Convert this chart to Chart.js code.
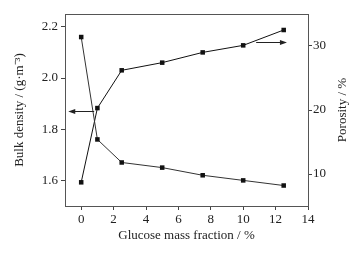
<!DOCTYPE html>
<html>
<head>
<meta charset="utf-8">
<script src="https://cdn.jsdelivr.net/npm/chart.js@4/dist/chart.umd.min.js"></script>
<style>
  html, body { margin: 0; padding: 0; background: #fff; }
  #wrap { width: 361px; height: 254px; }
</style>
</head>
<body>
<div id="wrap"><canvas id="c"></canvas></div>
<script>
const glucose = [0, 1, 2.5, 5, 7.5, 10, 12.5];
const bulkDensity = [2.16, 1.76, 1.67, 1.65, 1.62, 1.60, 1.58];
const porosity = [8.7, 20.3, 26.2, 27.4, 29.0, 30.1, 32.5];

const xTicks = [0, 2, 4, 6, 8, 10, 12, 14];
const densityTicks = [1.6, 1.8, 2.0, 2.2];
const porosityTicks = [10, 20, 30];

// arrows: [x from, x to, value] on the axis they point to
const leftArrow = [0.8, -0.8, 1.87];
const rightArrow = [10.8, 12.7, 30.7];

const rightTitle = "Porosity / %";

const font = { family: "'Liberation Serif', 'Times New Roman', serif", size: 13 };
const ink = "#222";

function fixTicks(list) {
  return function (scale) {
    scale.ticks = list.map((v) => ({ value: v }));
  };
}

const extras = {
  id: "extras",
  afterDatasetsDraw(chart) {
    const { ctx, chartArea, scales } = chart;
    ctx.save();
    ctx.strokeStyle = "#555";
    ctx.lineWidth = 1;
    ctx.beginPath();
    ctx.moveTo(chartArea.left, chartArea.top + 0.5);
    ctx.lineTo(chartArea.right, chartArea.top + 0.5);
    ctx.stroke();

    function arrow(x1, x2, y) {
      const px1 = scales.x.getPixelForValue(x1);
      const px2 = scales.x.getPixelForValue(x2);
      const dir = px2 > px1 ? 1 : -1;
      ctx.strokeStyle = ink;
      ctx.fillStyle = ink;
      ctx.beginPath();
      ctx.moveTo(px1, y);
      ctx.lineTo(px2 - dir * 4, y);
      ctx.stroke();
      ctx.beginPath();
      ctx.moveTo(px2, y);
      ctx.lineTo(px2 - dir * 7, y - 2.5);
      ctx.lineTo(px2 - dir * 7, y + 2.5);
      ctx.closePath();
      ctx.fill();
    }
    arrow(leftArrow[0], leftArrow[1], Math.round(scales.yL.getPixelForValue(leftArrow[2])) + 0.5);
    arrow(rightArrow[0], rightArrow[1], Math.round(scales.yR.getPixelForValue(rightArrow[2])) + 0.5);

    // right axis title reads bottom-to-top like the left one
    ctx.translate(343, (chartArea.top + chartArea.bottom) / 2);
    ctx.rotate(-Math.PI / 2);
    ctx.font = font.size + "px " + font.family;
    ctx.fillStyle = ink;
    ctx.textAlign = "center";
    ctx.textBaseline = "middle";
    ctx.fillText(rightTitle, 0, 0);
    ctx.restore();
  },
};

new Chart(document.getElementById("c"), {
  type: "line",
  data: {
    datasets: [
      {
        label: "Bulk density",
        data: glucose.map((x, i) => ({ x: x, y: bulkDensity[i] })),
        yAxisID: "yL",
        borderColor: "#333",
        backgroundColor: "#111",
        borderWidth: 1,
        pointStyle: "rect",
        pointRadius: 3.2,
        pointBorderWidth: 0,
      },
      {
        label: "Porosity",
        data: glucose.map((x, i) => ({ x: x, y: porosity[i] })),
        yAxisID: "yR",
        borderColor: "#111",
        backgroundColor: "#111",
        borderWidth: 1,
        pointStyle: "rect",
        pointRadius: 3.2,
        pointBorderWidth: 0,
      },
    ],
  },
  options: {
    responsive: true,
    maintainAspectRatio: false,
    animation: false,
    layout: { padding: { top: 14, left: 0, right: 0, bottom: 0 } },
    plugins: { legend: { display: false }, tooltip: { enabled: false } },
    scales: {
      x: {
        type: "linear",
        min: -1,
        max: 14,
        afterBuildTicks: fixTicks(xTicks),
        afterFit(s) { s.height = 48; },
        border: { color: "#555", width: 1 },
        grid: { drawOnChartArea: false, tickLength: 4, color: "#444" },
        ticks: { color: ink, font: font, padding: 2 },
        title: { display: true, text: "Glucose mass fraction / %", color: ink, font: font, padding: { top: 0, bottom: 11 } },
      },
      yL: {
        type: "linear",
        position: "left",
        min: 1.5,
        max: 2.25,
        afterBuildTicks: fixTicks(densityTicks),
        afterFit(s) { s.width = 65; },
        border: { color: "#555", width: 1 },
        grid: { drawOnChartArea: false, tickLength: 4, color: "#444" },
        ticks: { color: ink, font: font, padding: 3, callback: (v) => v.toFixed(1) },
        title: { display: true, text: "Bulk density / (g·m⁻³)", color: ink, font: font, padding: { top: 12, bottom: 0 } },
      },
      yR: {
        type: "linear",
        position: "right",
        min: 5,
        max: 35,
        afterBuildTicks: fixTicks(porosityTicks),
        afterFit(s) { s.width = 53; },
        border: { color: "#555", width: 1 },
        grid: { drawOnChartArea: false, tickLength: 4, color: "#444" },
        ticks: { color: ink, font: font, padding: 1 },
      },
    },
  },
  plugins: [extras],
});
</script>
</body>
</html>
